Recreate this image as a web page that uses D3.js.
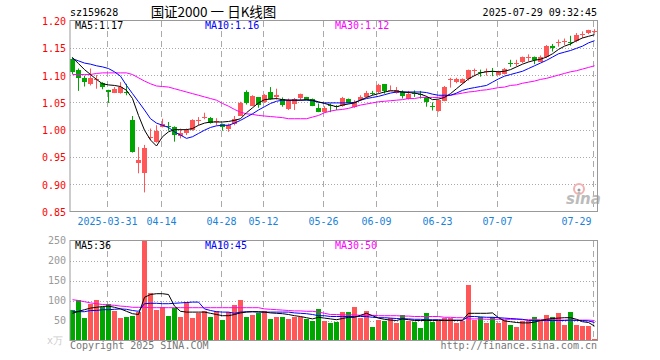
<!DOCTYPE html>
<meta charset="utf-8">
<style>
body { margin: 0; background: #fff; }
text { font: 10px "DejaVu Sans Mono", monospace; }
.grid { stroke: #aaa; stroke-dasharray: 1,2; }
.vgrid { stroke: #aaa; stroke-dasharray: 6,4; }
.frame { fill: none; stroke: #999; }
</style>
<body>
<script src="https://cdn.jsdelivr.net/npm/d3@7"></script>
<script>

var dates = ["03-21","03-24","03-25","03-26","03-27","03-28",
  "03-31","04-01","04-02","04-03","04-07","04-08","04-09","04-10","04-11","04-14","04-15","04-16","04-17","04-18",
  "04-21","04-22","04-23","04-24","04-25","04-28","04-29","04-30","05-06","05-07","05-08","05-09","05-12","05-13",
  "05-14","05-15","05-16","05-19","05-20","05-21","05-22","05-23","05-26","05-27","05-28","05-29","05-30","06-03",
  "06-04","06-05","06-06","06-09","06-10","06-11","06-12","06-13","06-16","06-17","06-18","06-19","06-20","06-23",
  "06-24","06-25","06-26","06-27","06-30","07-01","07-02","07-03","07-04","07-07","07-08","07-09","07-10","07-11",
  "07-14","07-15","07-16","07-17","07-18","07-21","07-22","07-23","07-24","07-25","07-28","07-29"];

var open = [1.130,1.110,1.095,1.084,1.091,1.085,1.072,1.068,1.068,1.069,1.017,0.938,0.921,0.986,0.978,1.005,1.007,1.005,0.988,0.993,
  0.999,1.016,1.023,1.022,1.014,1.010,1.002,1.011,1.026,1.069,1.043,1.059,1.051,1.069,1.059,1.057,1.037,1.048,1.057,1.060,
  1.057,1.040,1.032,1.046,1.043,1.043,1.057,1.042,1.055,1.061,1.068,1.069,1.083,1.072,1.067,1.069,1.057,1.068,1.066,1.059,
  1.044,1.034,1.054,1.091,1.087,1.086,1.092,1.108,1.105,1.106,1.108,1.101,1.103,1.123,1.121,1.124,1.132,1.133,1.125,1.132,
  1.154,1.159,1.162,1.161,1.163,1.175,1.176,1.180];
var high = [1.133,1.112,1.099,1.112,1.100,1.087,1.073,1.078,1.087,1.084,1.025,0.968,0.972,1.002,1.008,1.020,1.014,1.006,1.002,1.002,
  1.019,1.023,1.031,1.023,1.021,1.011,1.011,1.025,1.051,1.072,1.063,1.059,1.065,1.078,1.075,1.059,1.057,1.058,1.066,1.060,
  1.057,1.048,1.043,1.048,1.045,1.060,1.057,1.054,1.063,1.071,1.071,1.084,1.083,1.081,1.078,1.072,1.071,1.072,1.071,1.061,
  1.050,1.055,1.080,1.095,1.095,1.094,1.110,1.112,1.110,1.112,1.113,1.108,1.113,1.128,1.128,1.134,1.138,1.134,1.136,1.155,
  1.157,1.165,1.167,1.172,1.177,1.180,1.183,1.184];
var low = [1.102,1.071,1.079,1.081,1.075,1.074,1.049,1.067,1.066,1.063,0.958,0.920,0.885,0.981,0.976,1.004,0.998,0.978,0.984,0.990,
  0.998,1.008,1.019,1.011,1.008,0.998,0.996,1.008,1.025,1.046,1.043,1.040,1.049,1.055,1.055,1.042,1.036,1.036,1.054,1.054,
  1.043,1.032,1.031,1.032,1.036,1.042,1.048,1.040,1.053,1.059,1.063,1.067,1.066,1.071,1.066,1.057,1.055,1.060,1.057,1.042,
  1.035,1.033,1.052,1.077,1.085,1.084,1.090,1.098,1.097,1.099,1.098,1.100,1.101,1.115,1.116,1.122,1.125,1.120,1.124,1.131,
  1.143,1.152,1.155,1.154,1.160,1.168,1.175,1.176];
var close = [1.106,1.096,1.087,1.095,1.092,1.078,1.069,1.075,1.079,1.068,0.959,0.944,0.966,0.987,0.998,1.011,1.006,0.991,0.993,0.999,
  1.017,1.017,1.024,1.013,1.015,1.004,1.009,1.020,1.049,1.048,1.061,1.045,1.063,1.057,1.063,1.046,1.054,1.057,1.065,1.055,
  1.045,1.032,1.040,1.045,1.041,1.058,1.050,1.051,1.060,1.068,1.067,1.082,1.071,1.073,1.073,1.061,1.066,1.067,1.065,1.049,
  1.043,1.054,1.079,1.092,1.093,1.093,1.109,1.109,1.104,1.107,1.107,1.106,1.112,1.122,1.122,1.133,1.133,1.127,1.134,1.153,
  1.151,1.160,1.163,1.160,1.174,1.176,1.182,1.181];

var ma5 = [1.132,1.121,1.110,1.101,1.092,1.084,1.082,1.081,1.079,1.072,1.057,1.026,0.999,0.981,0.970,0.987,0.996,1.000,1.000,1.000,
  1.002,1.008,1.012,1.014,1.014,1.014,1.015,1.017,1.020,1.031,1.040,1.049,1.055,1.056,1.057,1.055,1.054,1.054,1.054,1.055,
  1.054,1.051,1.048,1.045,1.042,1.045,1.047,1.049,1.054,1.059,1.063,1.066,1.069,1.071,1.071,1.069,1.068,1.067,1.065,1.061,
  1.055,1.056,1.059,1.066,1.075,1.084,1.093,1.099,1.104,1.106,1.107,1.106,1.107,1.110,1.115,1.120,1.124,1.127,1.129,1.133,
  1.139,1.147,1.153,1.157,1.163,1.168,1.171,1.174];
var ma10 = [1.130,1.126,1.122,1.120,1.117,1.115,1.112,1.106,1.098,1.081,1.066,1.051,1.036,1.020,1.012,1.008,1.004,0.996,0.990,0.984,
  0.987,0.993,0.999,1.004,1.007,1.008,1.008,1.012,1.017,1.023,1.029,1.036,1.042,1.048,1.052,1.054,1.054,1.054,1.054,1.054,
  1.053,1.050,1.049,1.049,1.049,1.049,1.049,1.050,1.054,1.057,1.059,1.061,1.064,1.067,1.069,1.069,1.069,1.069,1.069,1.068,
  1.065,1.063,1.063,1.063,1.067,1.072,1.075,1.077,1.079,1.081,1.087,1.093,1.098,1.101,1.104,1.107,1.112,1.117,1.122,1.127,
  1.133,1.139,1.142,1.145,1.149,1.153,1.159,1.163];
var ma30 = [1.101,1.101,1.101,1.101,1.103,1.104,1.104,1.104,1.104,1.104,1.101,1.095,1.089,1.084,1.080,1.079,1.078,1.075,1.072,1.069,
  1.066,1.063,1.060,1.057,1.054,1.048,1.043,1.037,1.032,1.029,1.028,1.026,1.025,1.024,1.023,1.022,1.020,1.020,1.020,1.020,
  1.023,1.026,1.031,1.034,1.036,1.037,1.039,1.042,1.045,1.047,1.049,1.051,1.052,1.053,1.054,1.055,1.057,1.057,1.059,1.059,
  1.059,1.059,1.061,1.063,1.065,1.067,1.069,1.070,1.072,1.073,1.075,1.077,1.078,1.081,1.082,1.085,1.087,1.089,1.092,1.094,
  1.097,1.100,1.103,1.106,1.108,1.111,1.114,1.117];

// volume, unit 10k
var volume = [77,102,56,92,102,83,92,73,57,60,62,71,300,118,77,83,62,81,60,97,
  56,69,73,60,73,52,71,88,102,60,65,70,75,55,60,58,55,60,58,55,
  50,78,48,43,46,71,71,83,57,75,35,52,50,56,43,65,50,46,31,68,
  46,50,57,57,43,50,140,52,60,43,60,43,52,40,35,50,50,60,50,65,
  60,68,40,71,40,37,37,3];
var volMa5 = [68,73,77,81,83,85,86,83,79,73,67,65,108,115,117,117,115,86,73,71,
  71,71,71,68,65,62,62,65,69,71,72,72,71,69,68,67,65,62,60,57,
  54,58,56,54,52,55,58,58,63,68,62,56,53,51,50,54,52,50,50,50,
  50,50,50,50,50,51,68,68,68,68,69,57,49,47,45,44,44,46,50,53,
  55,56,57,57,53,47,45,36];
var volMa10 = [72,72,72,75,75,77,77,78,79,78,75,73,92,93,93,92,92,93,94,95,
  96,96,79,75,72,71,71,68,71,72,72,71,71,71,71,71,71,69,68,67,
  65,62,62,60,60,60,60,60,60,60,58,57,57,56,55,54,54,53,53,52,
  52,52,51,51,51,50,60,60,59,58,58,57,56,55,54,53,50,50,50,50,
  50,50,50,51,50,50,49,45];
var volMa30 = [102,100,97,94,92,90,89,88,86,85,83,83,83,82,82,82,82,82,82,82,
  82,82,82,82,82,82,82,82,82,82,82,82,79,78,77,76,75,74,74,73,
  73,71,68,65,65,64,64,64,63,63,63,62,62,62,62,61,61,60,60,60,
  60,60,58,58,57,57,54,54,54,53,53,53,53,53,53,52,52,52,52,52,
  52,51,51,51,51,51,51,50];

var priceTicks = [1.20, 1.15, 1.10, 1.05, 1.00, 0.95, 0.90, 0.85];
var volTicks = [250, 200, 150, 100, 50];
var tickDates = ["03-31","04-14","04-28","05-12","05-26","06-09","06-23","07-07","07-29"];
var tickLabels = ["2025-03-31","04-14","04-28","05-12","05-26","06-09","06-23","07-07","07-29"];

var width = 660, height = 360;
var left = 70, right = 597.5;

var svg = d3.select("body").append("svg")
    .attr("width", width)
    .attr("height", height);

var x = d3.scaleLinear().domain([0, dates.length - 1]).range([72.5, 594.5]);
var y = d3.scaleLinear().domain([0.85, 1.20]).range([211.5, 20.5]);
var yv = d3.scaleLinear().domain([0, 250]).range([340.5, 240.5]);

var red = "#ff5757", green = "#00a600";
function col(i) { return close[i] >= open[i] ? red : green; }

// clip paths
var defs = svg.append("defs");
defs.append("clipPath").attr("id", "cp").append("rect")
    .attr("x", left).attr("y", 20.5).attr("width", right - left).attr("height", 191);
defs.append("clipPath").attr("id", "cv").append("rect")
    .attr("x", left).attr("y", 240.5).attr("width", right - left).attr("height", 100);

// header
svg.append("text").attr("x", 70).attr("y", 16).text("sz159628");
svg.append("text").attr("x", 213.5).attr("y", 17).attr("text-anchor", "middle")
    .style("font", "13.5px 'Noto Sans CJK SC', sans-serif").text("国证2000 一 日K线图");
svg.append("text").attr("x", 597).attr("y", 16).attr("text-anchor", "end").text("2025-07-29 09:32:45");

// price grid
svg.selectAll(".pg").data(priceTicks.slice(1, -1)).enter().append("line")
    .attr("class", "grid")
    .attr("x1", left).attr("x2", right)
    .attr("y1", function(d) { return Math.round(y(d)) + 0.5; })
    .attr("y2", function(d) { return Math.round(y(d)) + 0.5; });
svg.selectAll(".pl").data(priceTicks).enter().append("text")
    .attr("x", 66).attr("y", function(d) { return y(d) + 4.5; })
    .attr("text-anchor", "end").attr("fill", "#f00")
    .text(function(d) { return d.toFixed(2); });

// volume grid
svg.selectAll(".vg").data(volTicks.slice(1)).enter().append("line")
    .attr("class", "grid")
    .attr("x1", left).attr("x2", right)
    .attr("y1", function(d) { return Math.round(yv(d)) + 0.5; })
    .attr("y2", function(d) { return Math.round(yv(d)) + 0.5; });
svg.selectAll(".vl").data(volTicks).enter().append("text")
    .attr("x", 66).attr("y", function(d) { return yv(d) + 3.5; })
    .attr("text-anchor", "end").attr("fill", "#999")
    .text(function(d) { return d; });
svg.append("text").attr("x", 63).attr("y", 344).attr("text-anchor", "end")
    .attr("fill", "#ccc").text("x万");

// date grid + labels
var tickIdx = tickDates.map(function(d) { return dates.indexOf(d); });
tickIdx.forEach(function(i, j) {
  var tx = Math.round(x(i) - 2) + 0.5;
  svg.append("line").attr("class", "vgrid")
      .attr("x1", tx).attr("x2", tx).attr("y1", 21).attr("y2", 211);
  svg.append("line").attr("class", "vgrid")
      .attr("x1", tx).attr("x2", tx).attr("y1", 241).attr("y2", 340);
  var last = j == tickIdx.length - 1;
  svg.append("text")
      .attr("x", last ? tx - 2 : tx)
      .attr("y", 225)
      .attr("text-anchor", last ? "end" : "middle")
      .attr("fill", "#1a82d8")
      .text(tickLabels[j]);
});

// sina watermark
var wm = svg.append("g");
wm.append("circle").attr("cx", 579).attr("cy", 189).attr("r", 5)
    .attr("fill", "none").attr("stroke", "#f3b0b0").attr("stroke-width", 2);
wm.append("circle").attr("cx", 579).attr("cy", 190).attr("r", 1.5).attr("fill", "#999");
wm.append("text").attr("x", 566).attr("y", 204)
    .style("font", "italic bold 15px 'DejaVu Sans', sans-serif")
    .attr("fill", "#bbb").text("sina");

// candles
var cg = svg.append("g").attr("clip-path", "url(#cp)");
var idx = d3.range(dates.length);
cg.selectAll(".wick").data(idx).enter().append("line")
    .attr("x1", function(i) { return x(i); })
    .attr("x2", function(i) { return x(i); })
    .attr("y1", function(i) { return y(high[i]); })
    .attr("y2", function(i) { return y(low[i]); })
    .attr("stroke", col);
cg.selectAll(".body").data(idx).enter().append("rect")
    .attr("x", function(i) { return x(i) - 2.5; })
    .attr("width", 5)
    .attr("y", function(i) { return Math.round(y(Math.max(open[i], close[i]))); })
    .attr("height", function(i) { return Math.max(1, Math.round(Math.abs(y(open[i]) - y(close[i])))); })
    .attr("fill", col);

// price MA lines
var line = d3.line().x(function(d, i) { return x(i); }).y(function(d) { return y(d); });
[[ma30, "#f0f"], [ma10, "#00f"], [ma5, "#000"]].forEach(function(m) {
  cg.append("path").datum(m[0]).attr("d", line)
      .attr("fill", "none").attr("stroke", m[1]).attr("stroke-width", 1);
});

// volume bars
var vg = svg.append("g").attr("clip-path", "url(#cv)");
vg.selectAll(".vol").data(idx).enter().append("rect")
    .attr("x", function(i) { return x(i) - 2.5; })
    .attr("width", 5)
    .attr("y", function(i) { return Math.round(yv(volume[i])); })
    .attr("height", function(i) { return 340.5 - Math.round(yv(volume[i])); })
    .attr("fill", col);

var vline = d3.line().x(function(d, i) { return x(i); }).y(function(d) { return yv(d); });
[[volMa30, "#f0f"], [volMa10, "#00f"], [volMa5, "#000"]].forEach(function(m) {
  vg.append("path").datum(m[0]).attr("d", vline)
      .attr("fill", "none").attr("stroke", m[1]).attr("stroke-width", 1);
});

// frames
svg.append("rect").attr("class", "frame").attr("x", left).attr("y", 20.5).attr("width", right - left).attr("height", 191);
svg.append("rect").attr("class", "frame").attr("x", left).attr("y", 240.5).attr("width", right - left).attr("height", 100);

// legends
function legend(yy, vals) {
  svg.append("text").attr("x", 75).attr("y", yy).attr("fill", "#000").text("MA5:" + vals[0]);
  svg.append("text").attr("x", 205).attr("y", yy).attr("fill", "#00f").text("MA10:" + vals[1]);
  svg.append("text").attr("x", 335).attr("y", yy).attr("fill", "#f0f").text("MA30:" + vals[2]);
}
var n = dates.length - 1;
legend(29, [ma5[n].toFixed(2), ma10[n].toFixed(2), ma30[n].toFixed(2)]);
legend(249, [volMa5[n], volMa10[n], volMa30[n]]);

// footer
svg.append("text").attr("x", 70).attr("y", 349).attr("fill", "#777").text("Copyright 2025 SINA.COM");
svg.append("text").attr("x", 597).attr("y", 349).attr("text-anchor", "end").attr("fill", "#777").text("http://finance.sina.com.cn");

</script>
</body>
